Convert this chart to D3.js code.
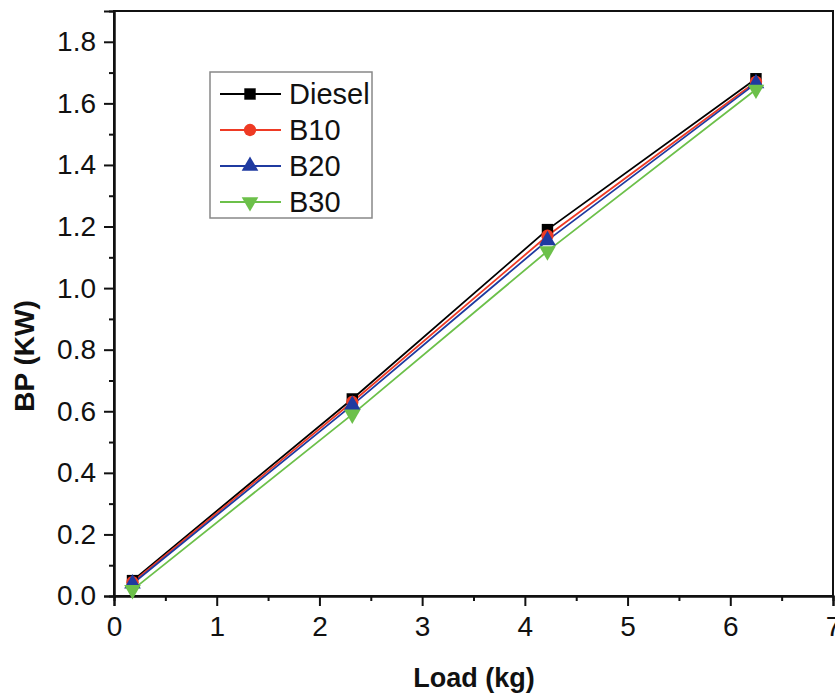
<!DOCTYPE html>
<html><head><meta charset="utf-8">
<script src="https://cdn.jsdelivr.net/npm/d3@7"></script>
<style>body{margin:0;background:#fff;} text{font-family:"Liberation Sans",Arial,sans-serif;}</style>
</head><body>
<svg id="c" width="835" height="694"></svg>
<script>
const loads = [0.18, 2.32, 4.22, 6.25];
const diesel = [0.05, 0.64, 1.19, 1.68];
const b10 = [0.045, 0.63, 1.17, 1.67];
const b20 = [0.04, 0.62, 1.155, 1.665];
const b30 = [0.02, 0.59, 1.12, 1.645];
const seriesNames = ["Diesel", "B10", "B20", "B30"];
const seriesColors = ["#000000", "#ee3a24", "#1f3aa0", "#6cc04a"];
const seriesSymbols = ["square", "circle", "triangle", "triangleDown"];
const xTicks = [0,1,2,3,4,5,6,7];
const yTicks = [0,0.2,0.4,0.6,0.8,1.0,1.2,1.4,1.6,1.8];

const svg = d3.select("#c");
const L = 114, R = 833, T = 11, B = 596;
const x = d3.scaleLinear().domain([0,7]).range([L,R]);
const y = d3.scaleLinear().domain([0,1.9]).range([B,T]);

svg.append("rect").attr("x",L).attr("y",T).attr("width",R-L).attr("height",B-T)
  .attr("fill","none").attr("stroke","#111").attr("stroke-width",2);

const xa = svg.append("g").attr("transform",`translate(0,${B})`)
  .call(d3.axisBottom(x).tickValues(xTicks).tickFormat(d3.format("d")).tickSize(10).tickPadding(10));
const xMinor = svg.append("g").attr("transform",`translate(0,${B})`)
  .call(d3.axisBottom(x).tickValues(d3.range(0.5,7,1)).tickFormat("").tickSize(5));
const ya = svg.append("g").attr("transform",`translate(${L},0)`)
  .call(d3.axisLeft(y).tickValues(yTicks).tickFormat(d3.format(".1f")).tickSize(10).tickPadding(8));
const yMinor = svg.append("g").attr("transform",`translate(${L},0)`)
  .call(d3.axisLeft(y).tickValues(d3.range(0.1,1.9,0.2)).tickFormat("").tickSize(5));
[xa,xMinor,ya,yMinor].forEach(g=>{
  g.select(".domain").attr("stroke","#111").attr("stroke-width",2);
  g.selectAll(".tick line").attr("stroke","#111").attr("stroke-width",2);
  g.selectAll("text").style("font-size","28px").attr("fill","#111").style("font-family","'Liberation Sans',Arial,sans-serif");
});

svg.append("text").attr("x",474).attr("y",687).attr("text-anchor","middle")
  .style("font-size","27px").attr("font-weight","bold").attr("fill","#111").text("Load (kg)");
svg.append("text").attr("transform",`translate(34,356) rotate(-90)`).attr("text-anchor","middle")
  .style("font-size","28px").attr("font-weight","bold").attr("fill","#111").text("BP (KW)");

const symMap = {square:d3.symbolSquare, circle:d3.symbolCircle, triangle:d3.symbolTriangle, triangleDown:d3.symbolTriangle};

const allData = [diesel,b10,b20,b30];
const line = d3.line().x((d,i)=>x(loads[i])).y(d=>y(d));
allData.forEach((vals,k)=>{
  svg.append("path").datum(vals).attr("d",line).attr("fill","none")
    .attr("stroke",seriesColors[k]).attr("stroke-width",1.8);
});
allData.forEach((vals,k)=>{
  vals.forEach((v,i)=>{
    const g = svg.append("g").attr("transform",`translate(${x(loads[i])},${y(v)})${seriesSymbols[k]==="triangleDown"?" rotate(180)":""}`);
    g.append("path").attr("d", d3.symbol().type(symMap[seriesSymbols[k]]).size(k===0?130:120)())
      .attr("fill",seriesColors[k]);
  });
});

svg.append("rect").attr("x",210).attr("y",72).attr("width",162).attr("height",146)
  .attr("fill","#fff").attr("stroke","#888").attr("stroke-width",1.5);
seriesNames.forEach((n,k)=>{
  const yy = 94 + k*36;
  svg.append("line").attr("x1",220).attr("x2",281).attr("y1",yy).attr("y2",yy)
    .attr("stroke",seriesColors[k]).attr("stroke-width",2);
  svg.append("g").attr("transform",`translate(250,${yy})${seriesSymbols[k]==="triangleDown"?" rotate(180)":""}`)
    .append("path").attr("d", d3.symbol().type(symMap[seriesSymbols[k]]).size(k===0?130:120)())
    .attr("fill",seriesColors[k]);
  svg.append("text").attr("x",289).attr("y",yy+10).style("font-size","29px").attr("fill","#111").text(n);
});
</script>
</body></html>
